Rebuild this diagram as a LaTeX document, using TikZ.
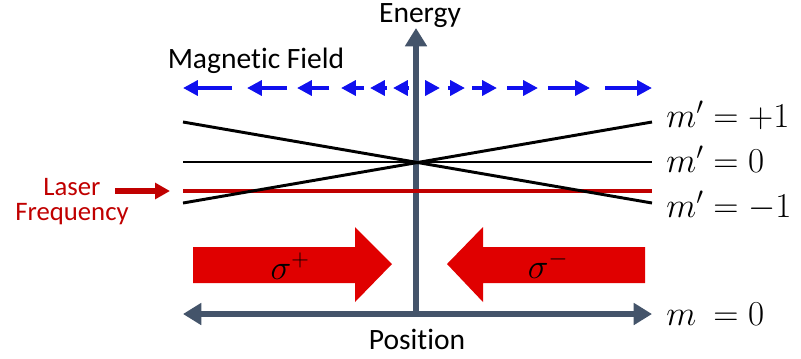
\documentclass[tikz,border=0pt]{standalone}
\usepackage{amsmath}
\usepackage[no-math]{fontspec}
\setmainfont{Carlito}[Ligatures=NoCommon]
\usepackage{tikz}
\usetikzlibrary{arrows.meta,positioning}
\definecolor{axisslate}{HTML}{44546A}
\definecolor{fieldblue}{HTML}{1010EE}
\definecolor{laserred}{HTML}{C00000}
\definecolor{beamred}{HTML}{E00000}
\tikzset{
  axis/.style={line width=4.3pt, draw=axisslate, >={Triangle[length=13pt, width=15pt]}},
  level/.style={line width=2.1pt, draw=black},
  laser/.style={line width=3pt, draw=laserred},
  pointer/.style={line width=3.6pt, draw=laserred, -{Triangle[length=10.5pt, width=11pt]}},
  field/.style={line width=3.5pt, draw=fieldblue, -{Triangle[length=10.5pt, width=10.5pt]}},
  beam/.style={fill=beamred},
  lbl/.style={font=\fontsize{21}{25}\selectfont, inner sep=0pt},
  redlbl/.style={font=\fontsize{19}{17.8}\selectfont, text=laserred, align=center, inner sep=0pt},
  mlab/.style={font=\fontsize{23.5}{27}\selectfont, inner sep=0pt},
  sigma/.style={font=\fontsize{26}{30}\selectfont, inner sep=0pt}
}

\begin{document}
\begin{tikzpicture}[x=0.025cm, y=-0.025cm]
  \useasboundingbox (0,0) rectangle (801,358);
  \coordinate (orig) at (416,314);
  \coordinate (etop) at (416,28);
  \coordinate (pleft) at (183,314);
  \coordinate (pright) at (652,314);
  \coordinate (upL) at (183,122);
  \coordinate (midL) at (183,162);
  \coordinate (loL) at (183,203);
  \coordinate (upR) at (652,122);
  \coordinate (midR) at (652,162);
  \coordinate (loR) at (652,203);
  \coordinate (redL) at (183,191);
  \coordinate (redR) at (652,191);
  \coordinate (lstart) at (115,191);
  \coordinate (ltip) at (170,191);

  \draw[axis, ->] (orig) -- (etop);
  \draw[axis, <->] (pleft) -- (pright);
  \node[lbl, anchor=base] (energy) at (420,22) {Energy};
  \node[lbl, anchor=base] (position) at (417,349) {Position};
  \node[lbl, anchor=base] (mfield) at (256,68) {Magnetic Field};

  \foreach \tail/\tip in {232/183, 287/247, 329/297, 364/341, 387/370, 409/393,
                          428/440, 448/465, 472/497, 507/538, 548/590, 605/652}
    \draw[field] (\tail,88) -- (\tip,88);

  \draw[laser] (redL) -- (redR);
  \draw[level] (upL) -- (loR);
  \draw[level] (loL) -- (upR);
  \draw[level] (midL) -- (midR);
  \node[mlab, anchor=base west] (mplus) at (666,127) {$m'=+1$};
  \node[mlab, anchor=base west] (mnull) at (666,172) {$m'=0$};
  \node[mlab, anchor=base west] (mminus) at (666,217) {$m'=-1$};
  \node[mlab, anchor=base west] (mground) at (666,325) {$m\phantom{'}=0$};

  \node[redlbl] (laser) at (72,202) {Laser\\Frequency};
  \draw[pointer] (lstart) -- (ltip);

  \fill[beam] (193,247) -- (355,247) -- (355,227) -- (392,264) -- (355,302)
    -- (355,283) -- (193,283) -- cycle;
  \fill[beam] (645,247) -- (483,247) -- (483,227) -- (447,264) -- (483,302)
    -- (483,283) -- (645,283) -- cycle;
  \node[sigma] (splus) at (290,266) {$\sigma^+$};
  \node[sigma] (sminus) at (548,265) {$\sigma^-$};
\end{tikzpicture}
\end{document}
